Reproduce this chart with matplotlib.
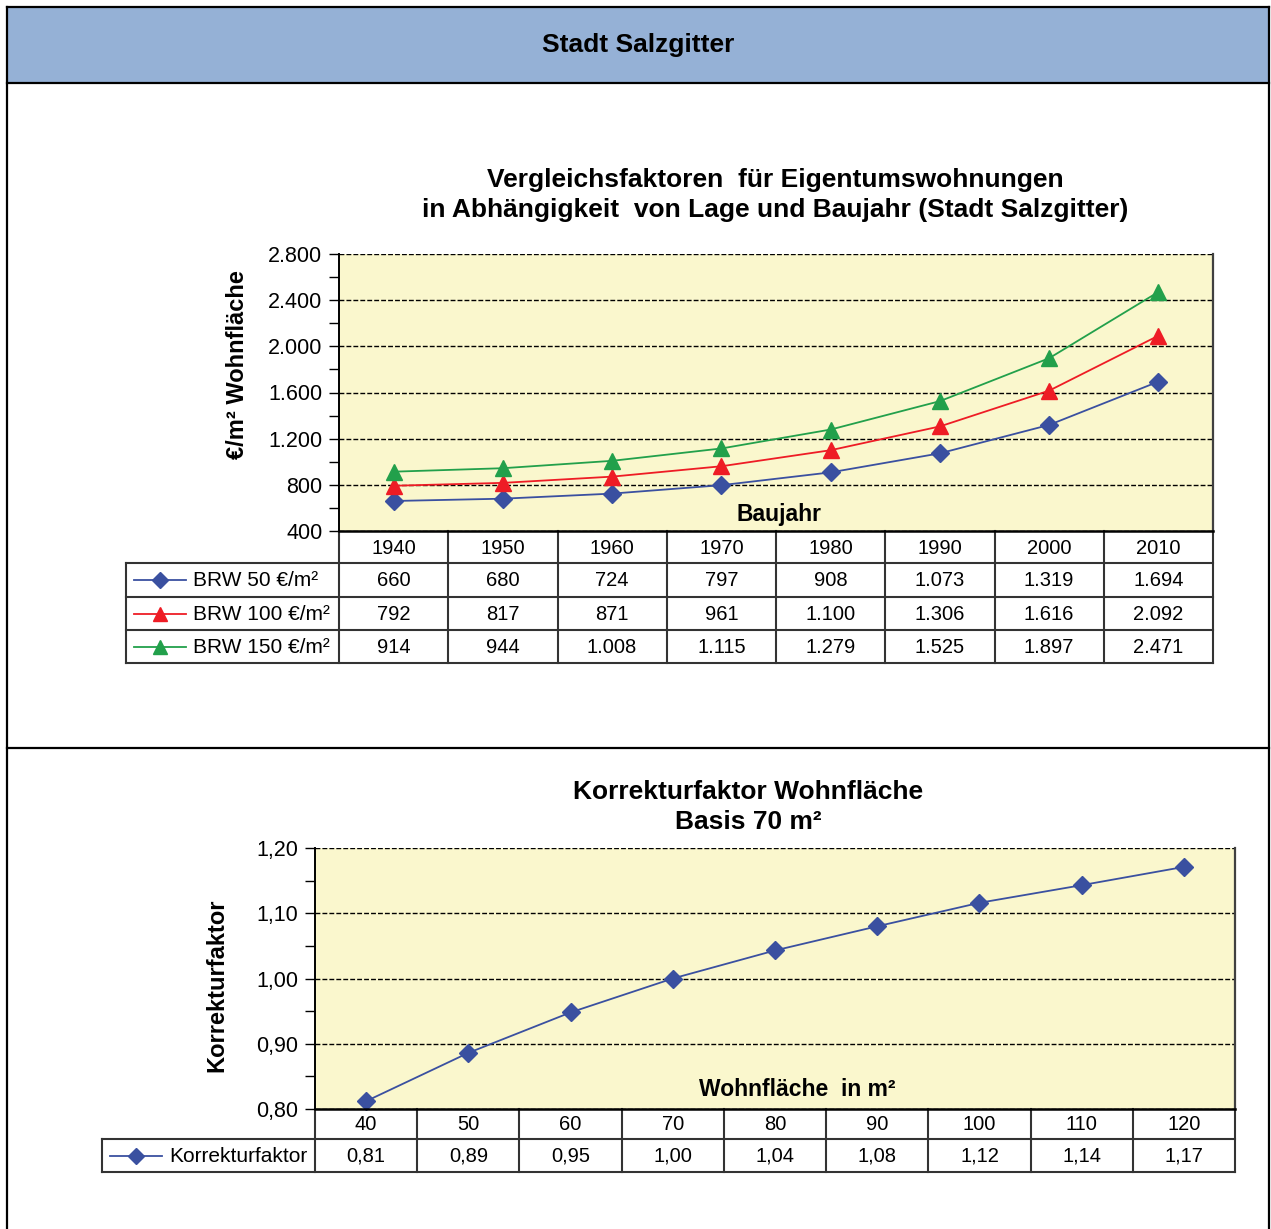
import matplotlib
matplotlib.use("Agg")
import matplotlib.pyplot as plt
import matplotlib.transforms as mtransforms
from matplotlib.lines import Line2D
from matplotlib.patches import Rectangle
from matplotlib.ticker import MultipleLocator, FuncFormatter

plt.rcParams['font.family'] = ['Liberation Sans', 'DejaVu Sans']

# chart 1 data
years = [1940, 1950, 1960, 1970, 1980, 1990, 2000, 2010]
series_names = ['BRW 50 €/m²', 'BRW 100 €/m²', 'BRW 150 €/m²']
brw_50 = [660, 680, 724, 797, 908, 1073, 1319, 1694]
brw_100 = [792, 817, 871, 961, 1100, 1306, 1616, 2092]
brw_150 = [914, 944, 1008, 1115, 1279, 1525, 1897, 2471]

# chart 2 data
flaeche = [40, 50, 60, 70, 80, 90, 100, 110, 120]
korrektur = [0.812, 0.886, 0.948, 1.000, 1.043, 1.080, 1.116, 1.143, 1.171]

W, H = 1271, 1229
fig = plt.figure(figsize=(W / 100, H / 100), dpi=100)
pix = mtransforms.Affine2D().scale(1 / W, -1 / H).translate(0, 1) + fig.transFigure

BG = '#FAF7CD'
GRID = '#333333'
blue, red, green = '#3A50A0', '#EE1C25', '#22A04B'


def de_thousands(v):
    return f"{int(round(v)):,}".replace(',', '.')


def de_dec(v):
    return f"{v:.2f}".replace('.', ',')


def fig_line(x0, y0, x1, y1, lw=1.5, color='black'):
    fig.add_artist(Line2D([x0, x1], [y0, y1], transform=pix, lw=lw, color=color))


# outer frame + header
fig.add_artist(Rectangle((7, 7), 1262, 76, transform=pix, facecolor='#95B1D6',
                         edgecolor='none'))
fig_line(7, 7, 1269, 7, lw=1.6)
fig_line(7, 83, 1269, 83, lw=1.6)
fig_line(7, 748, 1269, 748, lw=1.6)
fig_line(7, 7, 7, 1229, lw=1.6)
fig_line(1269, 7, 1269, 1229, lw=1.6)
fig.text(638, 45, 'Stadt Salzgitter', transform=pix, ha='center', va='center',
         fontsize=19, fontweight='bold')


def make_chart(box, ylim, major, minor, yfmt, xvals, series, labels, fmt,
               leg_left, rows, title, title_y, xlabel, xlabel_pos, ylabel, ylabel_pos):
    left, top, right, bottom = box
    ax = fig.add_axes([left / W, 1 - bottom / H, (right - left) / W, (bottom - top) / H])
    ax.set_facecolor(BG)
    n = len(xvals)
    ax.set_xlim(-0.5, n - 0.5)
    ax.set_ylim(*ylim)
    ax.yaxis.set_major_locator(MultipleLocator(major))
    ax.yaxis.set_minor_locator(MultipleLocator(minor))
    ax.yaxis.set_major_formatter(FuncFormatter(lambda v, p: yfmt(v)))
    ax.tick_params(axis='y', which='both', direction='out', length=7, width=1,
                   labelsize=15.5, pad=5)
    ax.set_xticks([])
    ax.yaxis.grid(True, which='major', color='black', lw=1, linestyle=(0, (3.5, 1.5)))
    ax.set_axisbelow(True)
    ax.spines['top'].set_visible(False)
    ax.spines['bottom'].set_visible(False)
    ax.spines['left'].set_linewidth(1.4)
    ax.spines['right'].set_color('#404040')
    ax.spines['right'].set_linewidth(1.6)

    for vals, (color, marker, ms) in series:
        ax.plot(range(n), vals, color=color, lw=1.3, marker=marker, markersize=ms,
                markeredgecolor=color, clip_on=False, zorder=3)

    # data table below the plot area
    bt = mtransforms.blended_transform_factory(ax.transData, pix)
    hdr_bot = rows[0]
    row_edges = rows
    for i in range(n + 1):
        ax.add_artist(Line2D([i - 0.5, i - 0.5], [bottom, row_edges[-1]], transform=bt,
                             color=GRID, lw=1.5, clip_on=False))
    ax.add_artist(Line2D([-0.5, n - 0.5], [bottom, bottom], transform=bt,
                         color='black', lw=1.8, clip_on=False, zorder=4))
    for i, xv in enumerate(xvals):
        ax.text(i, (bottom + hdr_bot) / 2 + 1, str(xv), transform=bt, ha='center',
                va='center', fontsize=14.5)
    for y in row_edges:
        fig_line(leg_left, y, right, y, color=GRID)
    fig_line(leg_left, row_edges[0], leg_left, row_edges[-1], color=GRID)
    for r, (vals, (color, marker, ms)) in enumerate(series):
        yc = (row_edges[r] + row_edges[r + 1]) / 2
        for i, v in enumerate(vals):
            ax.text(i, yc + 1, fmt(v), transform=bt, ha='center', va='center',
                    fontsize=14.5)
        x0 = leg_left + 8
        fig.add_artist(Line2D([x0, x0 + 52], [yc, yc], transform=pix, color=color, lw=1.3))
        fig.add_artist(Line2D([x0 + 26], [yc], transform=pix, color=color, marker=marker,
                              markersize=ms - 1, markeredgecolor=color))
        fig.text(x0 + 59, yc + 1, labels[r], transform=pix, ha='left', va='center',
                 fontsize=15)

    cx = title[1]
    fig.text(cx, title_y, title[0], transform=pix, ha='center', va='center',
             fontsize=19, fontweight='bold', linespacing=1.28)
    fig.text(xlabel_pos[0], xlabel_pos[1], xlabel, transform=pix, ha='center',
             va='center', fontsize=16.5, fontweight='bold')
    fig.text(ylabel_pos[0], ylabel_pos[1], ylabel, transform=pix, ha='center',
             va='center', rotation=90, fontsize=17, fontweight='bold')
    return ax


make_chart((339, 254, 1213, 531), (400, 2800), 400, 200, de_thousands, years,
           [(brw_50, (blue, 'D', 9.5)), (brw_100, (red, '^', 11)), (brw_150, (green, '^', 11))],
           series_names, de_thousands, 126, [563, 597, 630, 663],
           ('Vergleichsfaktoren  für Eigentumswohnungen\n'
            'in Abhängigkeit  von Lage und Baujahr (Stadt Salzgitter)', 775), 195,
           'Baujahr', (779, 514), '€/m² Wohnfläche', (237, 365))

make_chart((315, 848, 1235, 1109), (0.8, 1.2), 0.1, 0.05, de_dec, flaeche,
           [(korrektur, (blue, 'D', 9.5))],
           ['Korrekturfaktor'], de_dec, 102, [1139, 1172],
           ('Korrekturfaktor Wohnfläche\nBasis 70 m²', 748), 807,
           'Wohnfläche  in m²', (797, 1089), 'Korrekturfaktor', (217, 985))

fig.savefig('out.png', dpi=100, facecolor='white')
